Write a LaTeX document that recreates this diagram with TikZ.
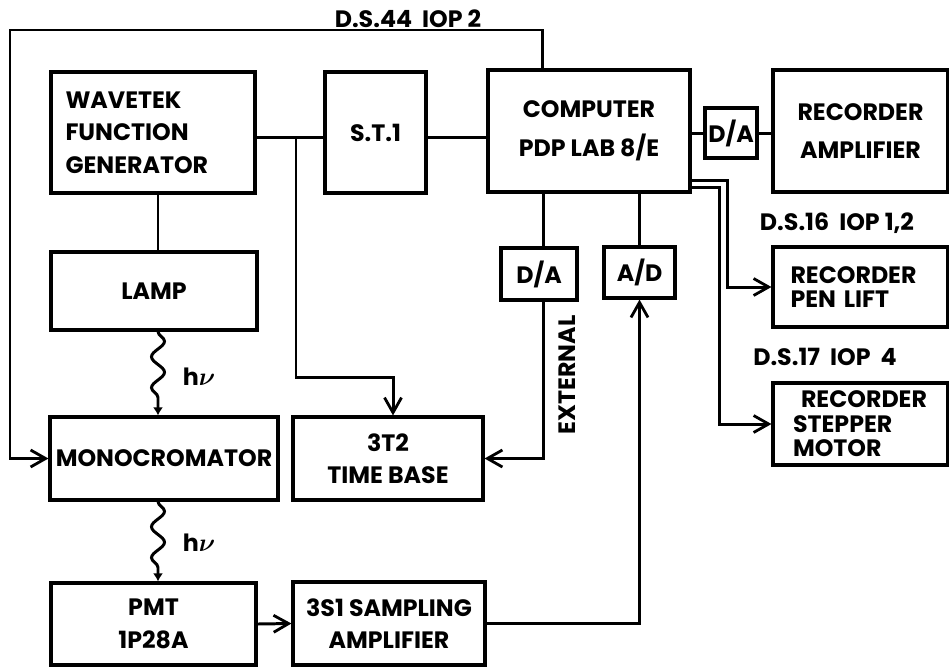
\documentclass[tikz,border=0pt]{standalone}
\usepackage{bm}
\usepackage{fontspec}
\setmainfont{Poppins}
\usepackage{tikz}
\usetikzlibrary{positioning, arrows.meta, calc, decorations.pathmorphing}
\newcommand{\lbl}{\fontsize{13.5}{18.5}\selectfont\bfseries}
\newcommand{\lbltight}{\fontsize{13.5}{14}\selectfont\bfseries}

\begin{document}
\begin{tikzpicture}[
      x=0.02cm, y=-0.02cm,
      box/.style={draw, line width=1.8pt, inner sep=0pt, font=\lbl, align=center},
      tag/.style={font=\lbl, inner sep=0pt},
      link/.style={line width=1.7pt},
      arrow/.style={link, -{Straight Barb[length=3mm, width=3.4mm, line width=1.6pt]}},
      wavy/.style={link, decorate, decoration={snake, amplitude=0.13cm, segment length=0.62cm, post length=1.5mm},
        -{Latex[length=1.6mm, width=2mm]}}
    ]
      \useasboundingbox (0,0) rectangle (949,667);

      \node[box, minimum width=4.08cm, minimum height=2.42cm, text width=3.5cm, align=left] (wave) at (153,132.5)
        {WAVETEK\\FUNCTION\\GENERATOR};
      \node[box, minimum width=2.02cm, minimum height=2.42cm] (st) at (375.5,132.5) {S.T.1};
      \node[box, minimum width=4.04cm, minimum height=2.44cm] (comp) at (589,131)
        {COMPUTER\\[4pt]PDP LAB 8/E};
      \node[box, minimum width=1.04cm, minimum height=1.0cm] (dar) at (731,133) {D/A};
      \node[box, minimum width=3.5cm, minimum height=2.44cm] (recamp) at (860.5,131)
        {RECORDER\\[3pt]AMPLIFIER};

      \node[box, minimum width=4.12cm, minimum height=1.56cm] (lamp) at (154,291) {LAMP};
      \node[box, minimum width=4.56cm, minimum height=1.66cm] (mono) at (164,458.5) {MONOCROMATOR};
      \node[box, minimum width=3.8cm, minimum height=1.66cm] (tb) at (388,458.5) {3T2\\TIME BASE};
      \node[box, minimum width=4.1cm, minimum height=1.64cm] (pmt) at (153.5,624) {PMT\\1P28A};
      \node[box, minimum width=3.84cm, minimum height=1.66cm] (samp) at (389,623.5)
        {3S1 SAMPLING\\AMPLIFIER};

      \node[box, minimum width=1.52cm, minimum height=1.04cm] (dal) at (539,274) {D/A};
      \node[box, minimum width=1.42cm, minimum height=1.02cm] (ad) at (639.5,272.5) {A/D};

      \node[box, font=\lbltight, minimum width=3.5cm, minimum height=1.6cm, text width=2.8cm, align=left] (pen)
        at (860.5,287) {RECORDER\\PEN LIFT};
      \node[box, font=\lbltight, minimum width=3.5cm, minimum height=1.64cm, text width=2.7cm, align=left] (step)
        at (860.5,424) {\hspace*{0.16cm}RECORDER\\STEPPER\\MOTOR};

      \node[tag] (ds44) at (408,19) {D.S.44\ \ IOP 2};
      \node[tag] (ds16) at (837,223) {D.S.16\ \ IOP 1,2};
      \node[tag] (ds17) at (825,357) {D.S.17\ \ IOP\ \ 4};
      \node[tag, rotate=90] (ext) at (567,375) {EXTERNAL};
      \node[tag] (hv1) at (199,377) {h$\bm{\nu}$};
      \node[tag] (hv2) at (199,543) {h$\bm{\nu}$};

      \coordinate (jn) at (296,137);
      \coordinate (tbin) at (393,377);
      \coordinate (beam) at (158,0);
      \coordinate (fb) at (10,30);
      \coordinate (bus1) at (727,180);
      \coordinate (bus2) at (719,187);

      \draw[link] (wave.east |- jn) -- (st.west |- jn);
      \draw[link] (st.east |- jn) -- (comp.west |- jn);
      \draw[arrow] (jn) |- (tbin) -- (tbin |- tb.north);
      \draw[link] (wave.south -| beam) -- (lamp.north -| beam);
      \draw[wavy] (lamp.south -| beam) -- (mono.north -| beam);
      \draw[wavy] (mono.south -| beam) -- (pmt.north -| beam);
      \draw[arrow] (comp.north -| 542,0) |- (fb) |- (mono.west);
      \draw[arrow] (pmt.east) -- (samp.west);
      \draw[arrow] (samp.east) -| (ad.south);
      \draw[link] (ad.north) -- (ad.north |- comp.south);
      \draw[link] (dal.north -| 543,0) -- (comp.south -| 543,0);
      \draw[arrow] (dal.south -| 543,0) |- (tb.east);
      \draw[link] (comp.east |- dar) -- (dar.west);
      \draw[link] (dar.east) -- (recamp.west |- dar);
      \draw[arrow] (comp.east |- bus1) -- (bus1) |- (pen.west);
      \draw[arrow] (comp.east |- bus2) -- (bus2) |- (step.west);
    \end{tikzpicture}
\end{document}
